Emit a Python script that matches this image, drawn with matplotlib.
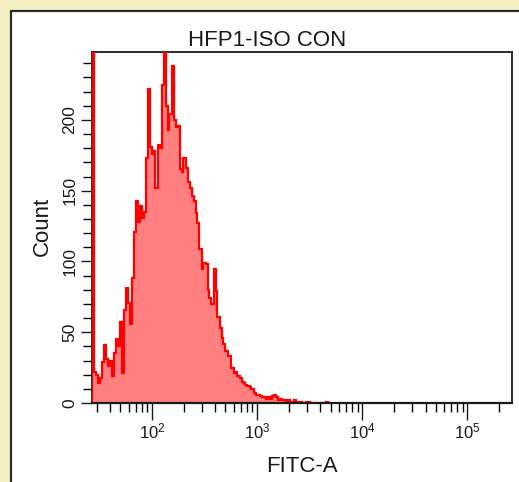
#!/usr/bin/env python3
"""FlowJo-style histogram: HFP1-ISO CON, FITC-A channel."""

import matplotlib
matplotlib.use("Agg")
import matplotlib.pyplot as plt
import numpy as np
from matplotlib.patches import Rectangle
from matplotlib.ticker import FixedLocator, FuncFormatter, MultipleLocator

plt.rcParams["font.family"] = ["Liberation Sans", "DejaVu Sans"]
plt.rcParams["mathtext.fontset"] = "custom"
plt.rcParams["mathtext.rm"] = "Liberation Sans"

# ---------------------------------------------------------------------------
# Data: event counts per log channel (first channel is off-scale / piled up)
# ---------------------------------------------------------------------------
TITLE = "HFP1-ISO CON"
X_LABEL = "FITC-A"
Y_LABEL = "Count"

X_MIN, X_MAX = 26.6, 262144
N_CHANNELS = 210
CHANNEL_EDGES = np.logspace(np.log10(X_MIN), np.log10(X_MAX), N_CHANNELS + 1)

counts_low = [
    400, 22, 20, 14, 18, 29, 41, 31, 26, 30,
    19, 35, 45, 40, 57, 21, 66, 81, 71, 56,
    88, 121, 143, 128, 139, 131, 135, 173, 222, 181,
    176, 178, 152, 182, 180, 225, 262, 210, 193, 204,
    238, 200, 195, 196, 165, 163, 173, 166, 156, 152,
    146, 143, 134, 127, 109, 95, 99, 98, 80, 74,
    70, 95, 79, 61, 53, 46, 42, 37, 33, 33,
    25, 21, 22, 19, 18, 15, 14, 13, 12, 11,
    10, 7, 6, 6, 5, 4, 4, 3, 4, 3,
    5, 6, 4, 2, 3, 2, 2, 1, 2, 1,
    1, 2, 0, 1, 1, 0, 0, 1, 1, 0,
    0, 0, 0, 0, 0, 0, 0, 1,
]
# rare bright events: (channel index, count)
rare_events = [(185, 1)]

Y_MAX = 248
y_major = [0, 50, 100, 150, 200]
x_major = [1e2, 1e3, 1e4, 1e5]

FILL_COLOR = "#ff8080"
LINE_COLOR = "#ff0000"
BG_COLOR = "#f4f0c4"
TEXT_COLOR = "#1a1a1a"


def main() -> None:
    n_low = len(counts_low)

    W, H = 519, 482
    fig = plt.figure(figsize=(W / 100, H / 100), dpi=100, facecolor=BG_COLOR)

    # white panel with dark border, behind the axes
    fig.patches.append(Rectangle((10.5 / W, -0.1), 1.2, 1.1 - 10.5 / H,
                                 transform=fig.transFigure, facecolor="white",
                                 edgecolor="#2a2a2a", lw=1.6, zorder=-10))

    ax = fig.add_axes([91.5 / W, 1 - 403 / H, (511.5 - 91.5) / W, (403 - 52) / H])
    ax.set_zorder(1)
    ax.set_facecolor("white")

    # main population
    ax.stairs(counts_low, CHANNEL_EDGES[:n_low + 1], fill=True,
              color=FILL_COLOR, zorder=2)
    ax.stairs(counts_low, CHANNEL_EDGES[:n_low + 1], color=LINE_COLOR,
              lw=1.6, zorder=3)
    # isolated bright events
    for idx, c in rare_events:
        ax.stairs([c], CHANNEL_EDGES[idx:idx + 2], fill=True,
                  color=LINE_COLOR, zorder=3)

    ax.set_xscale("log")
    ax.set_xlim(X_MIN, X_MAX)
    ax.set_ylim(0, Y_MAX)

    # ── ticks ──
    ax.xaxis.set_major_locator(FixedLocator(x_major))
    minors = [m * 10 ** e for e in range(1, 6) for m in range(2, 10)]
    ax.xaxis.set_minor_locator(FixedLocator(minors))
    ax.xaxis.set_major_formatter(
        FuncFormatter(lambda v, _: r"$\mathregular{10^{%d}}$" % round(np.log10(v))))
    ax.xaxis.set_minor_formatter(FuncFormatter(lambda v, _: ""))

    ax.yaxis.set_major_locator(FixedLocator(y_major))
    ax.yaxis.set_minor_locator(MultipleLocator(10))

    ax.tick_params(axis="x", which="major", direction="out", length=12.5,
                   width=1.0, pad=1, labelsize=12, colors=TEXT_COLOR)
    ax.tick_params(axis="x", which="minor", direction="out", length=6.5,
                   width=1.0)
    ax.tick_params(axis="y", which="major", direction="out", length=8,
                   width=1.0, pad=2, labelsize=12.5, colors=TEXT_COLOR)
    ax.tick_params(axis="y", which="minor", direction="out", length=6.5,
                   width=1.0)
    for lab in ax.get_yticklabels():
        lab.set_rotation(90)
        lab.set_va("center")

    for spine in ax.spines.values():
        spine.set_color("#1a1a1a")
        spine.set_linewidth(1.3)
    # the black baseline sits over the red outline at zero counts
    ax.spines["bottom"].set_linewidth(1.6)
    ax.spines["bottom"].set_zorder(4)

    # ── labels ──
    fig.text(267.5 / W, 1 - 46.5 / H, TITLE, ha="center", va="baseline",
             fontsize=16, color=TEXT_COLOR)
    fig.text(302 / W, 1 - 472 / H, X_LABEL, ha="center", va="baseline",
             fontsize=16, color=TEXT_COLOR)
    fig.text(42 / W, 1 - 226 / H, Y_LABEL, ha="center", va="center",
             rotation=90, fontsize=16, color=TEXT_COLOR)

    fig.savefig("out.png", dpi=100, facecolor=BG_COLOR)
    plt.close(fig)


if __name__ == "__main__":
    main()
